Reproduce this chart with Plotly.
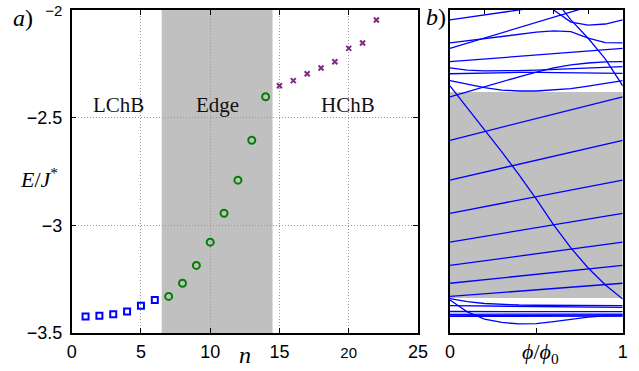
import plotly.graph_objects as go

# ---------------- panel a) data ----------------
n_lchb = [1, 2, 3, 4, 5, 6]
E_lchb = [-3.423, -3.420, -3.413, -3.400, -3.373, -3.347]
n_edge = [7, 8, 9, 10, 11, 12, 13, 14]
E_edge = [-3.330, -3.269, -3.186, -3.078, -2.944, -2.790, -2.605, -2.403]
n_hchb = [15, 16, 17, 18, 19, 20, 21, 22]
E_hchb = [-2.352, -2.328, -2.296, -2.269, -2.240, -2.178, -2.153, -2.046]
edge_band_n = [6.5, 14.5]
region_labels = ["LChB", "Edge", "HChB"]
region_label_n = [3.39, 10.53, 19.93]
region_label_E = -2.44
x_tickvals = [0, 5, 10, 15, 20, 25]
x_ticktext = ["0", "5", "10", "15", "<span style='font-size:15px'>20</span>", "25"]
y_tickvals = [-3.5, -3, -2.5, -2]
y_ticktext = ["\u22123.5", "\u22123", "\u22122.5", "<span style='font-size:15px'>\u22122</span>"]

# ---------------- panel b) data ----------------
PHI = [0.0, 0.1, 0.2, 0.3, 0.4, 0.5, 0.6, 0.7, 0.8, 0.9, 1.0]
PHI_ENDS = [0.0, 1.0]
edge_band_E = [-3.3375, -2.381]

lvl_S = [-2.352, -2.455, -2.553, -2.659, -2.766, -2.878, -2.998, -3.105, -3.198, -3.277, -3.342]
lvl_L5 = [None, None, None, None, None, None, -1.944, -2.046, -2.131, -2.228, -2.352]
lvl_L4 = [None, None, None, None, None, -1.916, -2.000, -2.056, -2.070, -2.065, -2.046]
lvl_L2 = [-2.153, -2.143, -2.133, -2.123, -2.113, -2.103, -2.097, -2.100, -2.130, -2.151, -2.153]
lvl_G0 = [-2.403, -2.379, -2.356, -2.333, -2.310, -2.288, -2.269, -2.255, -2.246, -2.241, -2.240]
lvl_M1 = [-2.269, -2.279, -2.283, -2.283, -2.281, -2.279, -2.276, -2.274, -2.269, -2.265, -2.263]
lvl_M = [-2.296, -2.294, -2.292, -2.290, -2.290, -2.290, -2.291, -2.292, -2.293, -2.294, -2.294]
lvl_D = [-2.328, -2.344, -2.360, -2.372, -2.376, -2.376, -2.372, -2.365, -2.353, -2.339, -2.328]
lvl_Bdip = [-3.347, -3.402, -3.435, -3.451, -3.458, -3.456, -3.447, -3.435, -3.426, -3.420, -3.420]
lvl_Bdesc = [-3.340, -3.354, -3.363, -3.368, -3.370, -3.371, -3.372, -3.373, -3.373, -3.373, -3.373]
curved_levels = [lvl_S, lvl_L5, lvl_L4, lvl_L2, lvl_G0, lvl_M1, lvl_M, lvl_D, lvl_Bdip, lvl_Bdesc]

# straight levels: energy at phi = 0 and at phi = 1
straight_start = [-2.046, -2.178, -2.240, -3.373, -3.400, -3.413, -3.420, -3.423]
straight_end = [-1.930, -1.937, -2.178, -3.381, -3.401, -3.412, -3.416, -3.421]

BLUE = "#0000ff"
GREEN = "#008000"
PURPLE = "#7f2a85"
GRAY = "#c0c0c0"
TICKFONT = dict(family="Liberation Sans, Arial, sans-serif", size=18, color="black")
SERIF = "Liberation Serif, Times New Roman, serif"

fig = go.Figure()

# panel a markers
fig.add_trace(go.Scatter(x=n_lchb, y=E_lchb, mode="markers", xaxis="x", yaxis="y",
                         marker=dict(symbol="square-open", size=6, color=BLUE,
                                     line=dict(width=2, color=BLUE)), showlegend=False))
fig.add_trace(go.Scatter(x=n_edge, y=E_edge, mode="markers", xaxis="x", yaxis="y",
                         marker=dict(symbol="circle-open", size=7, color=GREEN,
                                     line=dict(width=2, color=GREEN)), showlegend=False))
fig.add_trace(go.Scatter(x=n_hchb, y=E_hchb, mode="markers", xaxis="x", yaxis="y",
                         marker=dict(symbol="x-thin", size=5, color=PURPLE,
                                     line=dict(width=2, color=PURPLE)), showlegend=False))

# panel b lines
line_style = dict(color=BLUE, width=1.3)
for lv in curved_levels:
    fig.add_trace(go.Scatter(x=PHI, y=lv, mode="lines", xaxis="x2", yaxis="y2",
                             line=line_style, showlegend=False, hoverinfo="skip"))
for e0, e1 in zip(straight_start, straight_end):
    fig.add_trace(go.Scatter(x=PHI_ENDS, y=[e0, e1], mode="lines", xaxis="x2", yaxis="y2",
                             line=line_style, showlegend=False, hoverinfo="skip"))
# edge states flow from level n to level n+1 across one flux quantum
for e0, e1 in zip(E_edge[:-1], E_edge[1:]):
    fig.add_trace(go.Scatter(x=PHI_ENDS, y=[e0, e1], mode="lines", xaxis="x2", yaxis="y2",
                             line=line_style, showlegend=False, hoverinfo="skip"))
# dummy trace for top tick axis of panel b
fig.add_trace(go.Scatter(x=[None], y=[None], xaxis="x3", yaxis="y2", showlegend=False,
                         hoverinfo="skip"))

shapes = [
    dict(type="rect", xref="x", yref="y", x0=edge_band_n[0], x1=edge_band_n[1],
         y0=-3.5, y1=-2, fillcolor=GRAY, line=dict(width=0), layer="below"),
    dict(type="rect", xref="x2", yref="y2", x0=0, x1=1,
         y0=edge_band_E[0], y1=edge_band_E[1], fillcolor=GRAY, line=dict(width=0), layer="below"),
]

annotations = []
for lab, xn in zip(region_labels, region_label_n):
    annotations.append(dict(x=xn, y=region_label_E, xref="x", yref="y", text=lab,
                            showarrow=False, font=dict(family=SERIF, size=21, color="#111")))

def pann(text, px, py, size):
    return dict(x=px / 639, y=1 - py / 371, xref="paper", yref="paper", text=text,
                showarrow=False, xanchor="center", yanchor="middle",
                font=dict(family=SERIF, size=size, color="black"))

annotations += [
    pann("<i>a</i>)", 23, 18, 24),
    pann("<i>b</i>)", 436, 17, 24),
    pann("<i>E</i>/<i>J</i><sup>*</sup>", 39, 178, 22),
    pann("<i>n</i>", 245, 355, 24),
    pann("<i>\u03d5</i>/<i>\u03d5</i><sub>0</sub>", 540, 353, 22),
]

axis_common = dict(showline=True, linecolor="black", linewidth=1.5, ticks="inside",
                   tickcolor="black", ticklen=5, tickwidth=1, zeroline=False,
                   tickfont=TICKFONT, automargin=False)
grid_style = dict(showgrid=True, gridcolor="#999999", griddash="1px,2px", gridwidth=1)

fig.update_layout(
    template="none",
    width=639, height=371, margin=dict(l=0, r=0, t=0, b=0, pad=0), autosize=False,
    plot_bgcolor="white", paper_bgcolor="white", showlegend=False,
    xaxis=dict(domain=[0.1122, 0.6541], range=[0, 25], tickvals=x_tickvals, ticktext=x_ticktext,
               mirror="ticks", anchor="y", ticklabelstandoff=2, **grid_style, **axis_common),
    yaxis=dict(domain=[0.1024, 0.9730], range=[-3.5, -2], tickvals=y_tickvals, ticktext=y_ticktext,
               mirror="ticks", anchor="x", ticklabelstandoff=4, **grid_style, **axis_common),
    xaxis2=dict(domain=[0.7042, 0.9745], range=[0, 1], tickvals=[0, 1], ticktext=["0", "1"],
                minor=dict(tickvals=[0.5], ticks="inside", ticklen=5, tickcolor="black", showgrid=False),
                mirror=True, showgrid=False, anchor="y2", ticklabelstandoff=2, **axis_common),
    xaxis3=dict(overlaying="x2", side="top", range=[0, 1], tickvals=[0.2, 0.4, 0.6, 0.8],
                showticklabels=False, ticks="inside", ticklen=4, tickcolor="black",
                showline=False, showgrid=False, zeroline=False, anchor="y2", automargin=False),
    yaxis2=dict(domain=[0.1024, 0.9730], range=[-3.5, -2], showline=True, linecolor="black",
                linewidth=1.5, mirror=True, ticks="", showticklabels=False, showgrid=False,
                zeroline=False, anchor="x2", automargin=False),
    shapes=shapes,
    annotations=annotations,
)

post = ("document.body.style.margin='0px';document.body.style.overflow='hidden';")
fig.write_html("out.html", config={"displayModeBar": False},
               post_script=post)
